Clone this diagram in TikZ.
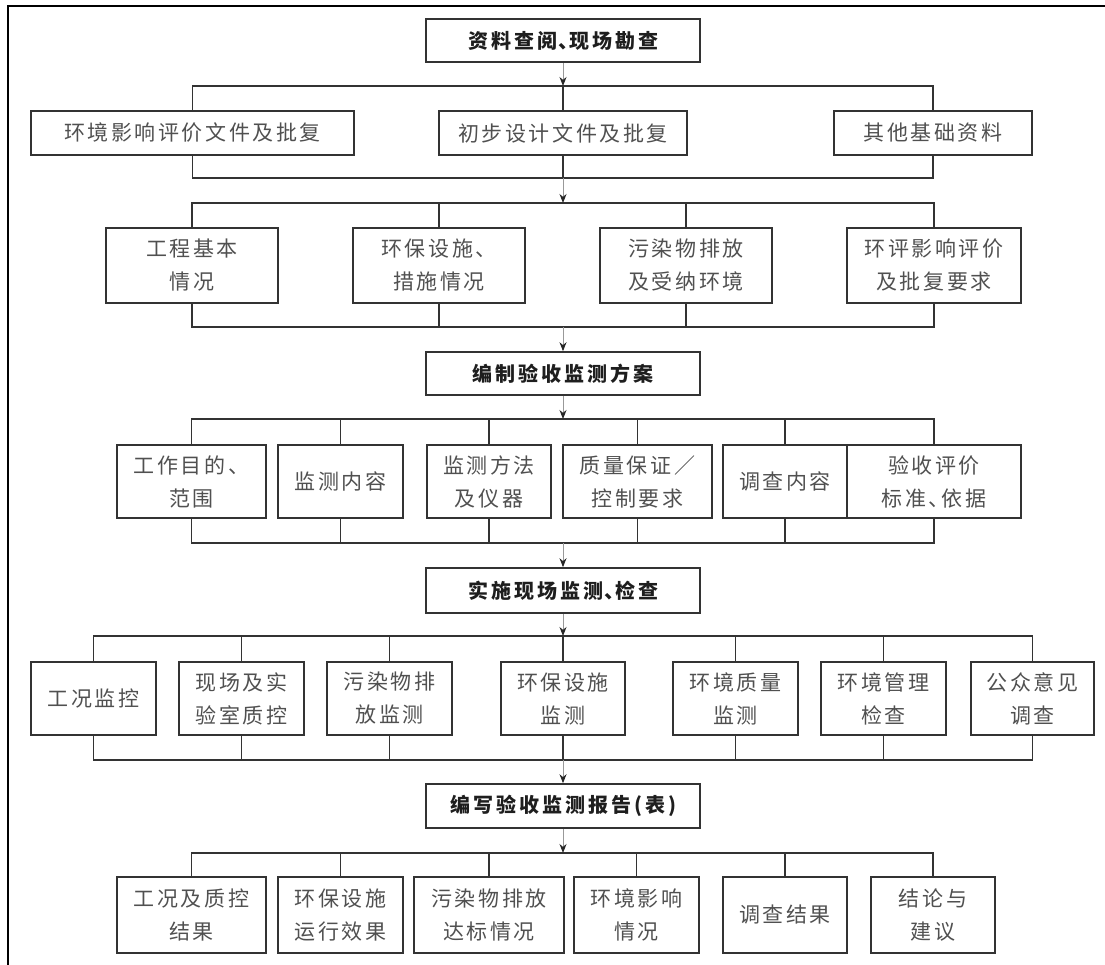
\documentclass[tikz,border=0pt]{standalone}
\usepackage{fontspec}
\setmainfont{Noto Sans CJK SC}
\usetikzlibrary{arrows.meta}
\definecolor{linec}{HTML}{333333}
\definecolor{txtc}{HTML}{505050}
\definecolor{hdc}{HTML}{1E1E1E}
\newcommand\bodyfont{\fontsize{21}{33}\selectfont\addfontfeatures{LetterSpace=12}}
\newcommand\headfont{\fontsize{20}{24}\selectfont\bfseries\addfontfeatures{LetterSpace=15}}
\newcommand\hdcomma{\kern0.05em、\kern-0.45em}
\tikzset{
  bx/.style={draw=linec, line width=1.6pt, align=center, inner sep=0pt, text=txtc, font=\bodyfont},
  hd/.style={bx, text=hdc, font=\headfont},
  conn/.style={draw=linec, line width=1.6pt, line cap=rect},
  arr/.style={draw=black!40, line width=1pt, -{Stealth[length=9pt,width=7pt,color=black!85]}},
}
% style, name, x1, y1, x2, y2, text
\newcommand\mybox[7]{%
  \node[#1, minimum width={(#5-#3)*1pt}, minimum height={(#6-#4)*1pt}] (#2) at ({(#3+#5)/2},{(#4+#6)/2}) {#7};}
\begin{document}
\begin{tikzpicture}[x=1pt,y=-1pt]
\useasboundingbox (0,0) rectangle (1105,965);
% frame
\draw[line width=2.4pt, black] (8,965) -- (8,6) -- (1105,6);

% headers
\mybox{hd}{top}{426}{19}{700}{62}{资料查阅\hdcomma 现场勘查}
\mybox{hd}{mid1}{426}{352}{700}{395}{编制验收监测方案}
\mybox{hd}{mid2}{426}{568}{700}{613}{实施现场监测\hdcomma 检查}
\mybox{hd}{mid3}{426}{784}{700}{828}{编写验收监测报告(表)}

% row 1
\mybox{bx}{r1a}{31}{111}{354}{155}{环境影响评价文件及批复}
\mybox{bx}{r1b}{439}{111}{687}{155}{初步设计文件及批复}
\mybox{bx}{r1c}{834}{111}{1032}{155}{其他基础资料}
% row 2
\mybox{bx}{r2a}{106}{228}{278}{303}{工程基本\\情况}
\mybox{bx}{r2b}{353}{228}{525}{303}{环保设施、\\措施情况}
\mybox{bx}{r2c}{600}{228}{772}{303}{污染物排放\\及受纳环境}
\mybox{bx}{r2d}{847}{228}{1021}{303}{环评影响评价\\及批复要求}
% row 3
\mybox{bx}{r3a}{117}{445}{266}{518}{工作目的、\\范围}
\mybox{bx}{r3b}{278}{445}{403}{518}{监测内容}
\mybox{bx}{r3c}{427}{445}{551}{518}{监测方法\\及仪器}
\mybox{bx}{r3d}{563}{445}{712}{518}{质量保证／\\控制要求}
\mybox{bx}{r3e}{723}{445}{847}{518}{调查内容}
\mybox{bx}{r3f}{847}{445}{1021}{518}{验收评价\\标准、\kern-0.4em依据}
% row 4
\mybox{bx}{r4a}{31}{662}{156}{735}{工况监控}
\mybox{bx}{r4b}{179}{662}{304}{735}{现场及实\\验室质控}
\mybox{bx}{r4c}{327}{662}{452}{735}{污染物排\\放监测}
\mybox{bx}{r4d}{501}{662}{625}{735}{环保设施\\监测}
\mybox{bx}{r4e}{673}{662}{798}{735}{环境质量\\监测}
\mybox{bx}{r4f}{821}{662}{946}{735}{环境管理\\检查}
\mybox{bx}{r4g}{971}{662}{1094}{735}{公众意见\\调查}
% row 5
\mybox{bx}{r5a}{117}{877}{266}{953}{工况及质控\\结果}
\mybox{bx}{r5b}{278}{877}{403}{953}{环保设施\\运行效果}
\mybox{bx}{r5c}{414}{877}{564}{953}{污染物排放\\达标情况}
\mybox{bx}{r5d}{574}{877}{699}{953}{环境影响\\情况}
\mybox{bx}{r5e}{723}{877}{847}{953}{调查结果}
\mybox{bx}{r5f}{871}{877}{995}{953}{结论与\\建议}

% bus coordinates
\coordinate (b1t) at (563,86);
\coordinate (b1b) at (563,178);
\coordinate (b2t) at (563,203);
\coordinate (b2b) at (563,327);
\coordinate (b3t) at (563,419);
\coordinate (b3b) at (563,543);
\coordinate (b4t) at (563,636);
\coordinate (b4b) at (563,760);
\coordinate (b5t) at (563,853);

% row 1 buses
\foreach \n in {r1a,r1b,r1c}
  \draw[conn] (\n.north) -- (\n.north |- b1t) (\n.south) -- (\n.south |- b1b);
\draw[conn] (r1a.north |- b1t) -- (r1c.north |- b1t) (r1a.south |- b1b) -- (r1c.south |- b1b);
% row 2 buses
\foreach \n in {r2a,r2b,r2c,r2d}
  \draw[conn] (\n.north) -- (\n.north |- b2t) (\n.south) -- (\n.south |- b2b);
\draw[conn] (r2a.north |- b2t) -- (r2d.north |- b2t) (r2a.south |- b2b) -- (r2d.south |- b2b);
% row 3 buses
\foreach \n in {r3a,r3b,r3c,r3d,r3e,r3f}
  \draw[conn] (\n.north) -- (\n.north |- b3t) (\n.south) -- (\n.south |- b3b);
\draw[conn] (r3a.north |- b3t) -- (r3f.north |- b3t) (r3a.south |- b3b) -- (r3f.south |- b3b);
% row 4 buses
\foreach \n in {r4a,r4b,r4c,r4d,r4e,r4f,r4g}
  \draw[conn] (\n.north) -- (\n.north |- b4t) (\n.south) -- (\n.south |- b4b);
\draw[conn] (r4a.north |- b4t) -- (r4g.north |- b4t) (r4a.south |- b4b) -- (r4g.south |- b4b);
% row 5 bus
\foreach \n in {r5a,r5b,r5c,r5d,r5e,r5f}
  \draw[conn] (\n.north) -- (\n.north |- b5t);
\draw[conn] (r5a.north |- b5t) -- (r5f.north |- b5t);

% arrows
\draw[arr] (top.south) -- (b1t);
\draw[arr] (b1b) -- (b2t);
\draw[arr] (b2b) -- (mid1.north);
\draw[arr] (mid1.south) -- (b3t);
\draw[arr] (b3b) -- (mid2.north);
\draw[arr] (mid2.south) -- (b4t);
\draw[arr] (b4b) -- (mid3.north);
\draw[arr] (mid3.south) -- (b5t);
\end{tikzpicture}
\end{document}
